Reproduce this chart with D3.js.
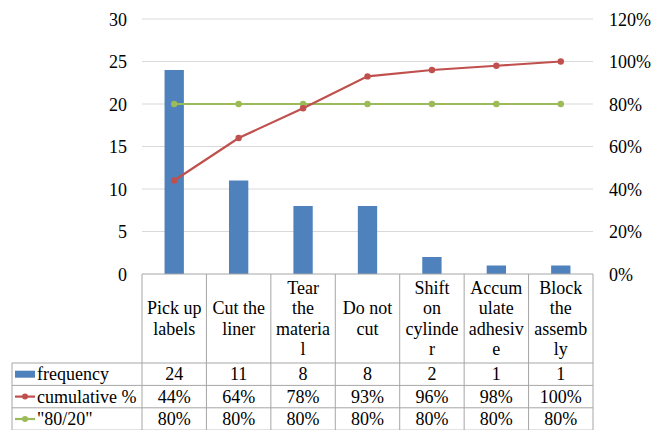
<!DOCTYPE html>
<html>
<head>
<meta charset="utf-8">
<script src="https://cdn.jsdelivr.net/npm/d3@7/dist/d3.min.js"></script>
<style>
  html, body { margin: 0; padding: 0; background: #fff; }
  svg { display: block; }
  svg text, svg tspan { font-family: "Liberation Serif", serif !important; }
</style>
</head>
<body>
<svg id="chart" width="657" height="430" font-family="Liberation Serif" font-size="18"></svg>
<script>
// Pareto data: defect causes, counts, cumulative share and the 80/20 reference
const categories = ["Pick up labels", "Cut the liner", "Tear the material", "Do not cut",
                    "Shift on cylinder", "Accumulate adhesive", "Block the assembly"];
const categoryLines = [
  ["Pick up", "labels"],
  ["Cut the", "liner"],
  ["Tear", "the", "materia", "l"],
  ["Do not", "cut"],
  ["Shift", "on", "cylinde", "r"],
  ["Accum", "ulate", "adhesiv", "e"],
  ["Block", "the", "assemb", "ly"]
];
const frequency = [24, 11, 8, 8, 2, 1, 1];
const cumulativePct = [44, 64, 78, 93, 96, 98, 100];
const ruleLine = [80, 80, 80, 80, 80, 80, 80];
const leftTicks = [0, 5, 10, 15, 20, 25, 30];
const rightTicks = [0, 20, 40, 60, 80, 100, 120];
const seriesNames = ["frequency", "cumulative %", "\"80/20\""];

const colors = { bar: "#4F81BD", cum: "#C0504D", rule: "#9BBB59", grid: "#D9D9D9", border: "#A6A6A6" };
const FONT = "Liberation Serif";
const FONT_SIZE = 18;

const svg = d3.select("#chart");
const plot = { left: 142, right: 593, top: 19, bottom: 274 };
const table = { left: 12, headerBottom: 363, rowH: 22.4 };

const x = d3.scaleBand().domain(categories).range([plot.left, plot.right]).padding(0);
const yL = d3.scaleLinear().domain([0, 30]).range([plot.bottom, plot.top]);
const yR = d3.scaleLinear().domain([0, 120]).range([plot.bottom, plot.top]);

function styleText(sel) {
  sel.attr("font-family", FONT).attr("font-size", FONT_SIZE).attr("fill", "#000")
     .style("font-family", "\"Liberation Serif\", serif", "important")
     .style("font-size", FONT_SIZE + "px", "important");
}

// Horizontal gridlines
svg.append("g").selectAll("line").data(leftTicks.filter(d => d > 0)).join("line")
  .attr("x1", plot.left).attr("x2", plot.right)
  .attr("y1", d => yL(d)).attr("y2", d => yL(d))
  .attr("stroke", colors.grid).attr("stroke-width", 1);

// Left axis (counts)
const leftAxis = svg.append("g").attr("transform", `translate(${plot.left - 15},0)`)
  .call(d3.axisLeft(yL).tickValues(leftTicks).tickSize(0).tickPadding(0).tickFormat(d3.format("d")));
leftAxis.select(".domain").remove();
leftAxis.attr("font-family", FONT).attr("font-size", FONT_SIZE);
leftAxis.selectAll("text").call(styleText).attr("dy", "0.34em");

// Right axis (percent)
const rightAxis = svg.append("g").attr("transform", `translate(${plot.right + 16},0)`)
  .call(d3.axisRight(yR).tickValues(rightTicks).tickSize(0).tickPadding(0).tickFormat(d => d + "%"));
rightAxis.select(".domain").remove();
rightAxis.attr("font-family", FONT).attr("font-size", FONT_SIZE);
rightAxis.selectAll("text").call(styleText).attr("dy", "0.34em");

// Bars
const barW = x.bandwidth() * 0.3;
svg.append("g").selectAll("rect").data(frequency).join("rect")
  .attr("x", (d, i) => x(categories[i]) + (x.bandwidth() - barW) / 2)
  .attr("y", d => yL(d))
  .attr("width", barW)
  .attr("height", d => yL(0) - yL(d))
  .attr("fill", colors.bar);

// Lines with markers
function drawSeries(values, color) {
  const line = d3.line()
    .x((d, i) => x(categories[i]) + x.bandwidth() / 2)
    .y(d => yR(d));
  svg.append("path").datum(values)
    .attr("d", line).attr("fill", "none")
    .attr("stroke", color).attr("stroke-width", 2.2);
  svg.append("g").selectAll("circle").data(values).join("circle")
    .attr("cx", (d, i) => x(categories[i]) + x.bandwidth() / 2)
    .attr("cy", d => yR(d)).attr("r", 3.2).attr("fill", color);
}
drawSeries(ruleLine, colors.rule);
drawSeries(cumulativePct, colors.cum);

// Data table beneath the plot
const tbl = svg.append("g");
const rowsTop = table.headerBottom;
const tableBottom = rowsTop + table.rowH * 3;
const bounds = categories.map(c => x(c)).concat([plot.right]);

// Axis line / table top
tbl.append("line").attr("x1", plot.left).attr("x2", plot.right)
  .attr("y1", plot.bottom).attr("y2", plot.bottom)
  .attr("stroke", colors.border);
// Column separators
tbl.selectAll("line.col").data(bounds).join("line").attr("class", "col")
  .attr("x1", d => d).attr("x2", d => d)
  .attr("y1", plot.bottom).attr("y2", tableBottom)
  .attr("stroke", colors.border);
// Left edge of the legend column
tbl.append("line").attr("x1", table.left).attr("x2", table.left)
  .attr("y1", rowsTop).attr("y2", tableBottom).attr("stroke", colors.border);
// Row separators
tbl.selectAll("line.row").data([0, 1, 2, 3]).join("line").attr("class", "row")
  .attr("x1", table.left).attr("x2", plot.right)
  .attr("y1", d => rowsTop + d * table.rowH).attr("y2", d => rowsTop + d * table.rowH)
  .attr("stroke", colors.border);

// Category headers, wrapped and centred in the header cell
const lineH = 20.5;
const headerMid = (plot.bottom + rowsTop) / 2;
categoryLines.forEach((lines, i) => {
  const cx = x(categories[i]) + x.bandwidth() / 2;
  const y0 = headerMid - (lines.length - 1) * lineH / 2;
  const t = tbl.append("text").attr("text-anchor", "middle").call(styleText);
  lines.forEach((s, j) => {
    t.append("tspan").attr("x", cx).attr("y", y0 + j * lineH).attr("dy", "0.34em").text(s);
  });
});

// Table rows: values
const rowValues = [
  frequency.map(d => String(d)),
  cumulativePct.map(d => d + "%"),
  ruleLine.map(d => d + "%")
];
rowValues.forEach((vals, r) => {
  const cy = rowsTop + (r + 0.5) * table.rowH;
  tbl.append("g").selectAll("text").data(vals).join("text")
    .attr("x", (d, i) => x(categories[i]) + x.bandwidth() / 2)
    .attr("y", cy).attr("dy", "0.34em")
    .attr("text-anchor", "middle").call(styleText).text(d => d);
});

// Legend keys and series names
const keyX0 = 15, keyX1 = 35;
seriesNames.forEach((name, r) => {
  const cy = rowsTop + (r + 0.5) * table.rowH;
  if (r === 0) {
    tbl.append("rect").attr("x", keyX0).attr("y", cy - 3.5).attr("width", keyX1 - keyX0).attr("height", 7)
      .attr("fill", colors.bar);
  } else {
    const c = r === 1 ? colors.cum : colors.rule;
    tbl.append("line").attr("x1", keyX0).attr("x2", keyX1).attr("y1", cy).attr("y2", cy)
      .attr("stroke", c).attr("stroke-width", 2.2);
    tbl.append("circle").attr("cx", (keyX0 + keyX1) / 2).attr("cy", cy).attr("r", 3).attr("fill", c);
  }
  tbl.append("text").attr("x", 37).attr("y", cy).attr("dy", "0.34em").call(styleText).text(name);
});
</script>
</body>
</html>
